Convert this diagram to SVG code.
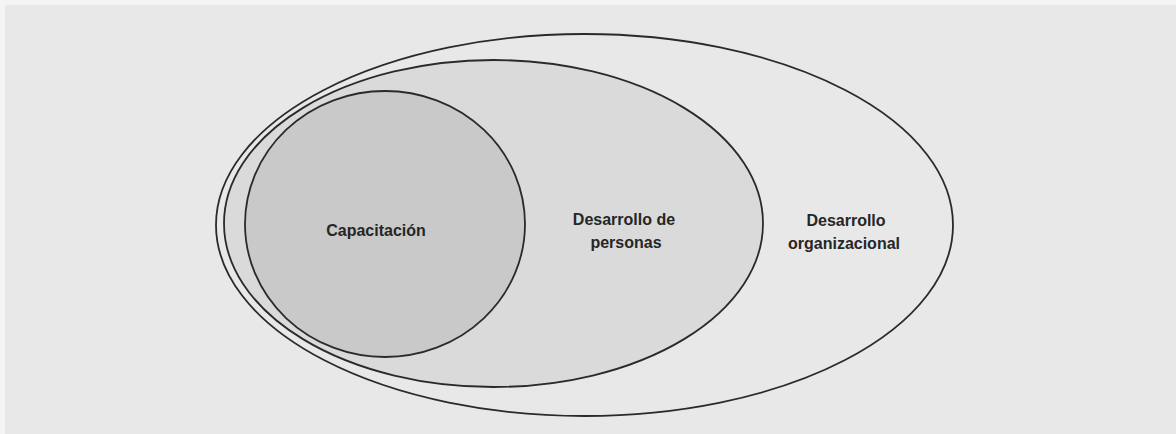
<svg xmlns="http://www.w3.org/2000/svg" width="1176" height="434" viewBox="0 0 1176 434">
<style>
.e{stroke:#2a2a2a;stroke-width:1.8}
.t{font-family:"Liberation Sans",Arial,sans-serif;font-weight:bold;font-size:16px;fill:#262626;text-anchor:middle}
</style>
<rect x="0" y="0" width="1176" height="434" fill="#f4f4f4"/>
<rect x="5" y="5" width="1171" height="429" fill="#e8e8e8"/>
<g id="desarrollo-organizacional">
<ellipse class="e" cx="584.5" cy="225" rx="368.5" ry="191" fill="#e8e8e8"/>
<text class="t" x="846" y="226">Desarrollo</text>
<text class="t" x="844" y="249">organizacional</text>
</g>
<g id="desarrollo-personas">
<ellipse class="e" cx="493.5" cy="223.5" rx="269.5" ry="163.5" fill="#dadada"/>
<text class="t" x="624" y="225">Desarrollo de</text>
<text class="t" x="626" y="248">personas</text>
</g>
<g id="capacitacion">
<ellipse class="e" cx="385" cy="224" rx="140" ry="133" fill="#c9c9c9"/>
<text class="t" x="376" y="236">Capacitación</text>
</g>
<g id="connectors"/>
</svg>
